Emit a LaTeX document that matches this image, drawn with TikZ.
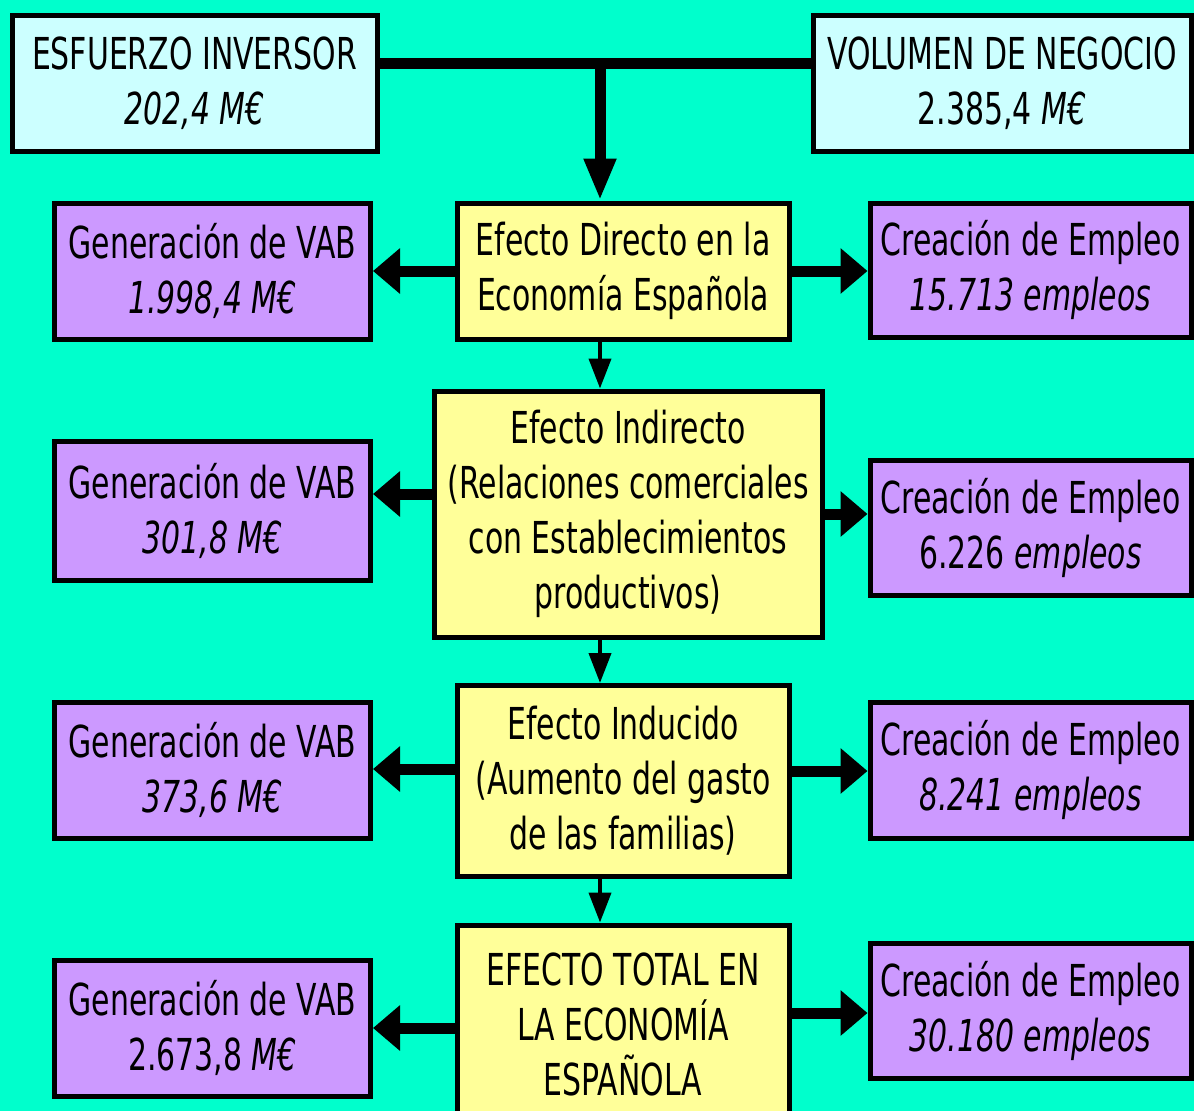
\documentclass[tikz,border=0pt]{standalone}
\usepackage{fontspec}
\setmainfont{DejaVu Sans}[FakeStretch=0.68]
\usetikzlibrary{arrows.meta}
\definecolor{fondo}{HTML}{00FFCC}
\definecolor{celeste}{HTML}{CCFFFF}
\definecolor{amarillo}{HTML}{FFFF99}
\definecolor{lila}{HTML}{CC99FF}
\begin{document}
\begin{tikzpicture}[x=1pt,y=-1pt,
	caja/.style={draw=black,line width=5pt,inner sep=0pt,align=center,
		font=\fontsize{44}{55}\selectfont},
	origen/.style={caja,fill=celeste,minimum height=136pt},
	efecto/.style={caja,fill=amarillo,minimum width=332pt},
	resultado/.style={caja,fill=lila,minimum width=316pt,minimum height=136pt},
	gruesa/.style={line width=11pt,-{Triangle[length=27pt,width=44pt]}},
	fina/.style={line width=4pt,-{Triangle[length=30pt,width=22pt]}}]
	\useasboundingbox (0,0) rectangle (1194,1111);
	\fill [fondo] (0,0) rectangle (1194,1111);
	\begin{scope}
	\clip (0,0) rectangle (1194,1111);
	\coordinate (eje) at (600,0);
	% origen del gasto
	\node [origen,minimum width=365pt] (inv) at (194.5,83) {ESFUERZO INVERSOR\\\textit{202,4 M€}};
	\node [origen,minimum width=378pt] (vol) at (1002,83) {VOLUMEN DE NEGOCIO\\2.385,4 \textit{M€}};
	% efectos
	\node [efecto,minimum height=136pt] (efdir) at (623,271) {Efecto Directo en la\\Economía Española};
	\node [efecto,minimum width=388pt,minimum height=246pt] (efind) at (628,514) {Efecto Indirecto\\(Relaciones comerciales\\con Establecimientos\\productivos)};
	\node [efecto,minimum height=191pt] (efinduc) at (623,781) {Efecto Inducido\\(Aumento del gasto\\de las familias)};
	\node [efecto,minimum height=198pt] (eftot) at (623,1024) {EFECTO TOTAL EN\\LA ECONOMÍA\\ESPAÑOLA};
	% VAB
	\node [resultado] (vabA) at (212.5,271) {Generación de VAB\\\textit{1.998,4 M€}};
	\node [resultado,minimum height=139pt] (vabB) at (212.5,511) {Generación de VAB\\\textit{301,8 M€}};
	\node [resultado] (vabC) at (212.5,770) {Generación de VAB\\\textit{373,6 M€}};
	\node [resultado] (vabD) at (212.5,1028) {Generación de VAB\\2.673,8 \textit{M€}};
	% empleo
	\node [resultado,minimum width=321pt,minimum height=134pt] (empA) at (1030.5,270) {Creación de Empleo\\\textit{15.713 empleos}};
	\node [resultado,minimum width=321pt,minimum height=135pt] (empB) at (1030.5,528) {Creación de Empleo\\6.226 \textit{empleos}};
	\node [resultado,minimum width=321pt] (empC) at (1030.5,770) {Creación de Empleo\\\textit{8.241 empleos}};
	\node [resultado,minimum width=321pt,minimum height=135pt] (empD) at (1030.5,1011) {Creación de Empleo\\\textit{30.180 empleos}};
	% conectores
	\draw [line width=11pt] ([yshift=20pt]inv.east) -- ([yshift=20pt]vol.west);
	\draw [line width=11pt,-{Triangle[length=42pt,width=30pt]}] ([yshift=20pt]inv.east -| eje) -- (efdir.north -| eje);
	\draw [fina] (efdir.south -| eje) -- (efind.north -| eje);
	\draw [fina] (efind.south -| eje) -- (efinduc.north -| eje);
	\draw [fina] (efinduc.south -| eje) -- (eftot.north -| eje);
	\draw [gruesa] (efdir.west) -- (efdir.west -| vabA.east);
	\draw [gruesa] (efdir.east) -- (efdir.east -| empA.west);
	\draw [gruesa] ([yshift=20pt]efind.west) -- ([yshift=20pt]efind.west -| vabB.east);
	\draw [gruesa] (efind.east) -- (efind.east -| empB.west);
	\draw [gruesa] ([yshift=12pt]efinduc.west) -- ([yshift=12pt]efinduc.west -| vabC.east);
	\draw [gruesa] ([yshift=10pt]efinduc.east) -- ([yshift=10pt]efinduc.east -| empC.west);
	\draw [gruesa] ([yshift=-4pt]eftot.west) -- ([yshift=-4pt]eftot.west -| vabD.east);
	\draw [gruesa] ([yshift=11pt]eftot.east) -- ([yshift=11pt]eftot.east -| empD.west);
	\end{scope}
\end{tikzpicture}
\end{document}
